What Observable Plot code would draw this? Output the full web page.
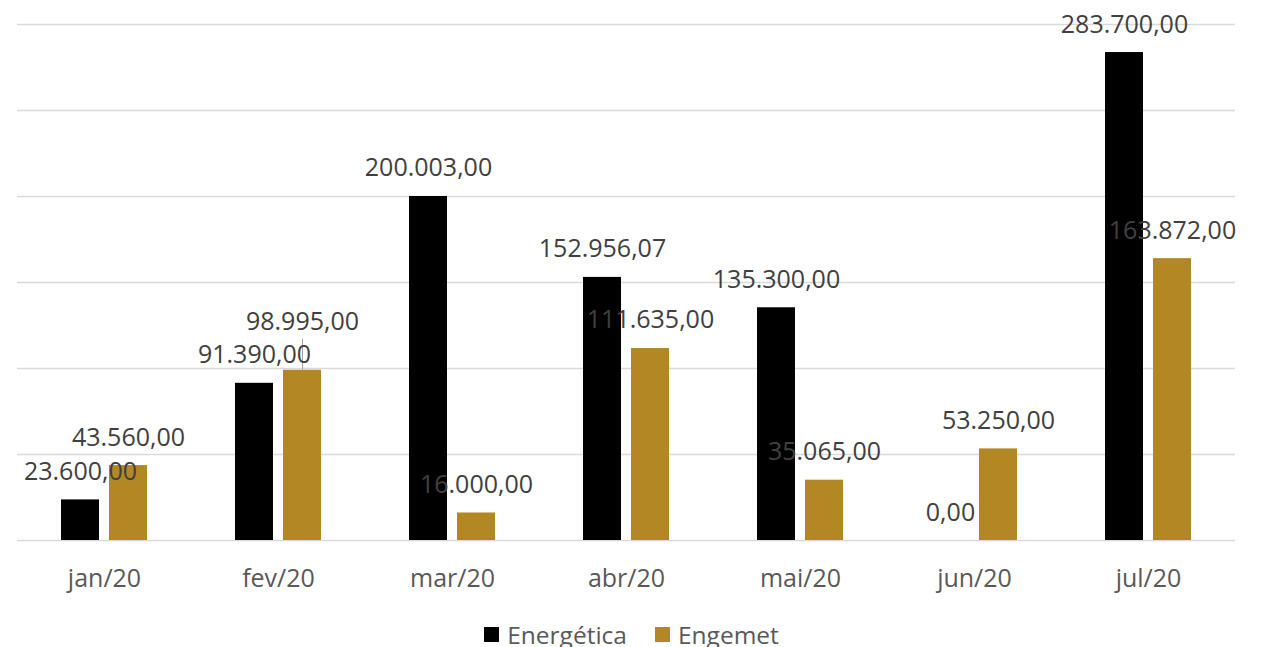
<!DOCTYPE html>
<html>
<head>
<meta charset="utf-8">
<script src="https://cdn.jsdelivr.net/npm/d3@7"></script>
<script src="https://cdn.jsdelivr.net/npm/@observablehq/plot@0.6"></script>
<style>
  html, body { margin: 0; padding: 0; background: #fff; overflow: hidden; }
  #chart { width: 1263px; }
  .legend { display: flex; justify-content: center; gap: 28px; font-family: "Open Sans", sans-serif; font-size: 24.5px; color: #595959; height: 40px; margin-top: -4px; margin-left: 0px; }
  .legend span { display: inline-flex; align-items: center; }
  .legend i { display: inline-block; width: 15px; height: 15px; margin-right: 8px; }
</style>
</head>
<body>
<div id="chart"></div>
<script>
const months = ["jan/20", "fev/20", "mar/20", "abr/20", "mai/20", "jun/20", "jul/20"];
const seriesNames = ["Energética", "Engemet"];
const energetica = [23600, 91390, 200003, 152956.07, 135300, 0, 283700];
const engemet = [43560, 98995, 16000, 111635, 35065, 53250, 163872];
const yTicks = [0, 50000, 100000, 150000, 200000, 250000, 300000];
const colors = ["#000000", "#B38824"];

const data = [];
months.forEach((m, i) => {
  data.push({month: m, series: seriesNames[0], value: energetica[i]});
  data.push({month: m, series: seriesNames[1], value: engemet[i]});
});

const fmt = d3.formatLocale({decimal: ",", thousands: ".", grouping: [3], currency: ["R$", ""]}).format(",.2f");

const raised = data.filter(d => d.month === "fev/20" && d.series === "Engemet");
const normal = data.filter(d => !(d.month === "fev/20" && d.series === "Engemet"));

const chart = Plot.plot({
  width: 1263,
  height: 618,
  marginLeft: 15,
  marginRight: 26,
  marginTop: 24,
  marginBottom: 78,
  style: {fontFamily: "Open Sans, sans-serif", background: "#fff"},
  fx: {domain: months, padding: 0, label: null},
  x: {domain: seriesNames, paddingInner: 0.2, paddingOuter: 0.88, axis: null},
  y: {domain: [0, 300000], axis: null},
  color: {domain: seriesNames, range: colors},
  marks: [
    Plot.ruleY(yTicks, {stroke: "#d9d9d9", strokeWidth: 1.5}),
    Plot.barY(data, {fx: "month", x: "series", y: "value", fill: "series"}),
    Plot.ruleX(raised, {fx: "month", x: "series", y1: "value", y2: "value", insetTop: -31, stroke: "#a6a6a6", strokeWidth: 1}),
    Plot.text(normal, {fx: "month", x: "series", y: "value", text: d => fmt(d.value), lineAnchor: "bottom", dy: -20, fontSize: 25, fill: "#404040"}),
    Plot.text(raised, {fx: "month", x: "series", y: "value", text: d => fmt(d.value), lineAnchor: "bottom", dy: -40, fontSize: 25, fill: "#404040"}),
    Plot.axisFx({anchor: "bottom", tickSize: 0, tickPadding: 29, fontSize: 25, fill: "#595959", label: null})
  ]
});
document.getElementById("chart").appendChild(chart);

const legend = document.createElement("div");
legend.className = "legend";
seriesNames.forEach((s, i) => {
  const sp = document.createElement("span");
  const sw = document.createElement("i");
  sw.style.background = colors[i];
  sp.appendChild(sw);
  sp.appendChild(document.createTextNode(s));
  legend.appendChild(sp);
});
document.body.appendChild(legend);
</script>
</body>
</html>
